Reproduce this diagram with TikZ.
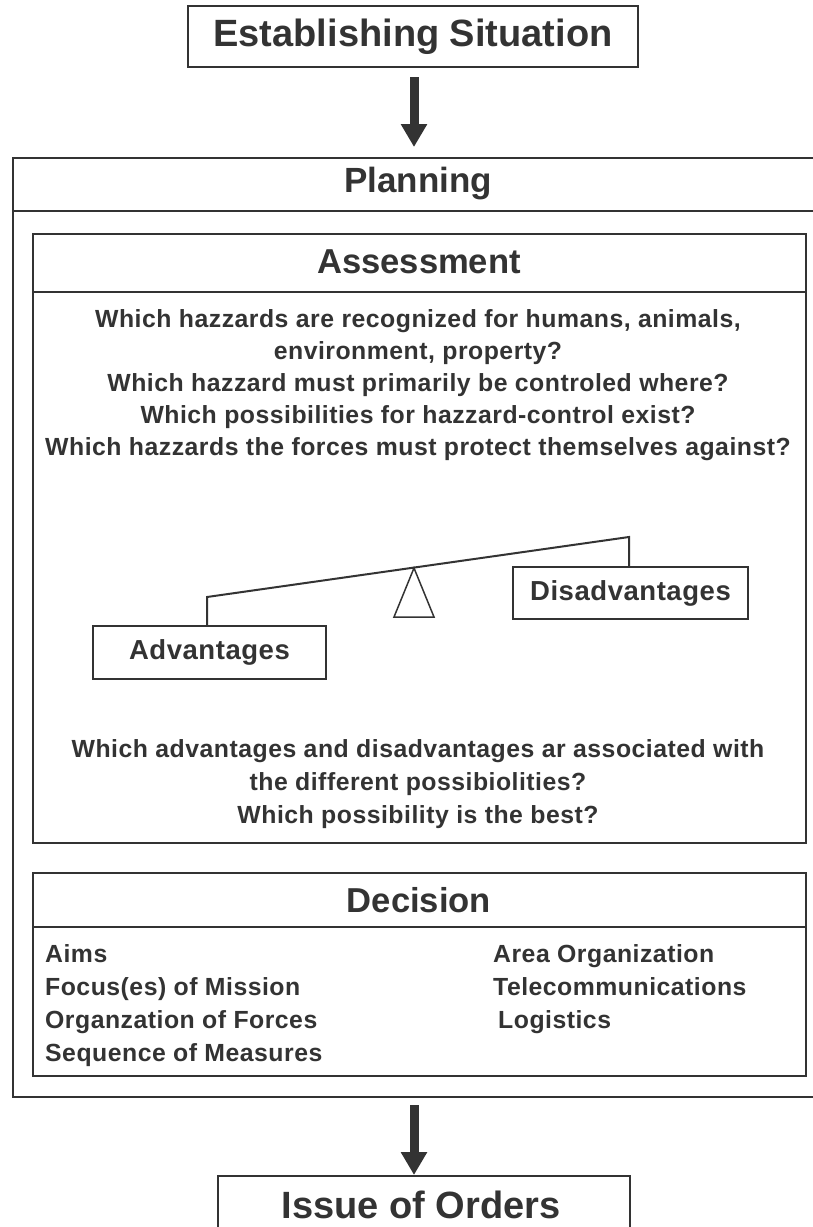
\documentclass[tikz,border=0pt]{standalone}
\usepackage{fontspec}
\setmainfont{Liberation Sans}
\newfontfamily\widefont[LetterSpace=2]{Liberation Sans}
\usetikzlibrary{arrows.meta}
\definecolor{ink}{HTML}{333333}
\begin{document}
\begin{tikzpicture}[x=1pt,y=-1pt,
  every node/.style={text=ink},
  frame/.style={draw=ink,line width=2pt,inner sep=0pt},
  title/.style={font=\bfseries\fontsize{#1}{#1}\selectfont},
  body/.style={font=\widefont\bfseries\fontsize{24.8}{32}\selectfont,align=center},
  item/.style={font=\widefont\bfseries\fontsize{24.8}{24.8}\selectfont,anchor=base west,inner sep=0pt},
  pan/.style={font=\widefont\bfseries\fontsize{27.5}{27.5}\selectfont},
  flow/.style={draw=ink,line width=9pt,-{Triangle[length=23pt,width=25pt]}},
  beam/.style={draw=ink,line width=2pt}]
\useasboundingbox (0,0) rectangle (813,1227);

% top and bottom stages
\node[frame,minimum width=450pt,minimum height=61pt,anchor=north west] (es) at (187,5) {};
\node[title=38] at (es.center) {Establishing Situation};
\node[frame,minimum width=412pt,minimum height=80pt,anchor=north west] (io) at (217,1175) {};
\node[title=38] at (421,1205) {Issue of Orders};

% planning frame
\node[frame,minimum width=820pt,minimum height=939pt,anchor=north west] (plan) at (12,157) {};
\draw[ink,line width=2pt] (12,211) -- (830,211);
\node[title=35] (plant) at (418,184) {Planning};

% assessment
\node[frame,minimum width=773pt,minimum height=609pt,anchor=north west] (ass) at (32,233) {};
\draw[ink,line width=2pt] (32,292) -- (805,292);
\node[title=34.6] (asst) at (419,262) {Assessment};
\node[body] (q1) at (418,385.5) {Which hazzards are recognized for humans, animals,\\
environment, property?\\
Which hazzard must primarily be controled where?\\
Which possibilities for hazzard-control exist?\\
Which hazzards the forces must protect themselves against?};

% balance
\node[frame,minimum width=233pt,minimum height=53pt,anchor=north west] (adv) at (92,625) {};
\node[pan] at (adv.center) {Advantages};
\node[frame,minimum width=235pt,minimum height=52pt,anchor=north west] (dis) at (512,566) {};
\node[pan] at (dis.center) {Disadvantages};
\coordinate (bl) at (207,597);
\coordinate (br) at (629,537);
\coordinate (pv) at (414,568);
\draw[beam] (bl |- adv.north) -- (bl) -- (br) -- (br |- dis.north);
\draw[ink,line width=1.5pt] (pv) -- (394,617) -- (434,617) -- cycle;

\node[body,font=\widefont\bfseries\fontsize{24.8}{33}\selectfont] (q2) at (418,784) {Which advantages and disadvantages ar associated with\\
the different possibiolities?\\
Which possibility is the best?};

% decision
\node[frame,minimum width=773pt,minimum height=203pt,anchor=north west] (dec) at (32,872) {};
\draw[ink,line width=2pt] (32,927) -- (805,927);
\node[title=34.6] (dect) at (419,900) {Decision};
\node[item] (d1) at (45,962) {Aims};
\node[item] (d2) at (45,995) {Focus(es) of Mission};
\node[item] (d3) at (45,1028) {Organzation of Forces};
\node[item] (d4) at (45,1061) {Sequence of Measures};
\node[item] (d5) at (493,962) {Area Organization};
\node[item] (d6) at (493,995) {Telecommunications};
\node[item] (d7) at (498,1028) {Logistics};

% flow arrows
\draw[flow] (es.south -| 414,0) ++(0,9) -- (414,147);
\draw[flow] (414,1105) -- (io.north -| 414,0);
\end{tikzpicture}
\end{document}
